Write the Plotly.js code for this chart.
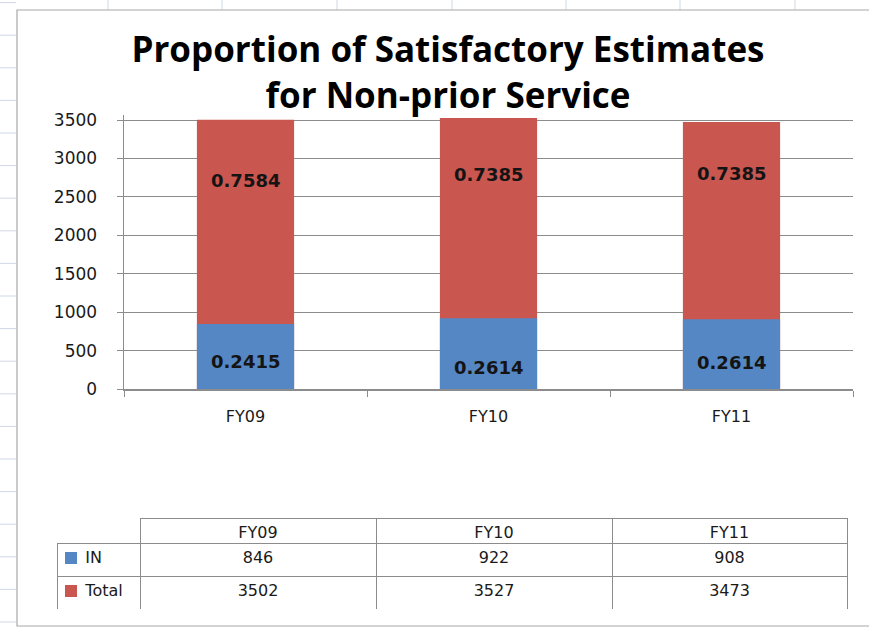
<!DOCTYPE html>
<html><head><meta charset="utf-8">
<script src="https://cdn.plot.ly/plotly-3.0.1.min.js"></script>
<style>html,body{margin:0;padding:0;background:#fff;overflow:hidden}#chart{width:869px;height:628px}</style>
</head><body><div id="chart"></div>
<script>
// ---- data ----
const categories = ['FY09', 'FY10', 'FY11'];
const seriesNames = ['IN', 'Total'];
const inValues = [846, 922, 908];
const totalValues = [3502, 3527, 3473];
const inShare = [0.2415, 0.2614, 0.2614];
const restShare = [0.7584, 0.7385, 0.7385];
const yTickValues = [0, 500, 1000, 1500, 2000, 2500, 3000, 3500];

// ---- style ----
const W = 869, H = 628;
const blue = '#5587C4', red = '#C9564F';
const px = x => x / W, py = y => 1 - y / H;
const redShift = [-61, -57, -51];
const blueShift = [-38, -49, -43];
const gridGray = '#8C8C8C';
const NB = '\u00a0';

const bars = [
  {type: 'bar', x: categories, y: totalValues, name: seriesNames[1], marker: {color: red}, hoverinfo: 'skip'},
  {type: 'bar', x: categories, y: inValues, name: seriesNames[0], marker: {color: blue}, hoverinfo: 'skip'}
];

const table = {
  type: 'table',
  domain: {x: [px(57), px(847)], y: [py(610), py(518)]},
  columnwidth: [83, 236, 236, 235],
  header: {
    values: [''].concat(categories),
    height: 25,
    align: 'center',
    fill: {color: ['rgba(0,0,0,0)', 'white', 'white', 'white']},
    line: {color: ['rgba(0,0,0,0)', gridGray, gridGray, gridGray], width: 1},
    font: {family: 'DejaVu Sans', size: 16, color: '#1a1a1a'}
  },
  cells: {
    values: [seriesNames.map(n => NB + NB + NB + NB + n)].concat(
      categories.map((c, i) => [String(inValues[i]), String(totalValues[i])])),
    height: 33,
    align: ['left', 'center', 'center', 'center'],
    fill: {color: 'white'},
    line: {color: gridGray, width: 1},
    font: {family: 'DejaVu Sans', size: 16, color: '#1a1a1a'}
  }
};

const annotations = [];
categories.forEach((c, i) => {
  annotations.push({xref: 'x', yref: 'y', x: c, y: totalValues[i], yshift: redShift[i], text: restShare[i].toFixed(4),
    showarrow: false, font: {family: 'DejaVu Sans', size: 18, color: '#141414', weight: 'bold'}});
  annotations.push({xref: 'x', yref: 'y', x: c, y: inValues[i], yshift: blueShift[i], text: inShare[i].toFixed(4),
    showarrow: false, font: {family: 'DejaVu Sans', size: 18, color: '#141414', weight: 'bold'}});
});

const shapes = [];
[108, 222, 337, 452, 566, 680, 795].forEach(x => shapes.push({type: 'line', xref: 'paper', yref: 'paper', x0: px(x), x1: px(x), y0: py(0), y1: py(10), line: {color: '#D0D7E5', width: 1}}));
for (let y = 2.6; y < 628; y += 32.6) shapes.push({type: 'line', xref: 'paper', yref: 'paper', x0: px(0), x1: px(16), y0: py(y), y1: py(y), line: {color: '#D0D7E5', width: 1}});
shapes.push({type: 'rect', xref: 'paper', yref: 'paper', x0: px(17), x1: px(880), y0: py(626), y1: py(10), line: {color: '#A8A8A8', width: 1.2}});
// legend keys inside the data table
[[blue, 552], [red, 585]].forEach(([col, y]) => shapes.push({type: 'rect', xref: 'paper', yref: 'paper', x0: px(65), x1: px(77), y0: py(y + 12), y1: py(y), fillcolor: col, line: {width: 0}, layer: 'above'}));

const layout = {
  width: W, height: H,
  margin: {l: 0, r: 0, t: 0, b: 0},
  paper_bgcolor: 'white', plot_bgcolor: 'white',
  showlegend: false,
  barmode: 'overlay', bargap: 0.6,
  title: {text: '<b>Proportion of Satisfactory Estimates<br>for Non-prior Service</b>', x: px(448), xanchor: 'center', xref: 'paper',
    y: py(62), yanchor: 'top', yref: 'paper', font: {family: 'Open Sans', size: 35, color: '#000'}},
  xaxis: {domain: [px(124), px(853)], range: [-0.5, 2.5], type: 'category', tickson: 'boundaries', ticks: 'outside', ticklen: 6,
    tickcolor: gridGray, showline: true, linecolor: gridGray, linewidth: 1.5, showgrid: false, ticklabelstandoff: 12,
    tickfont: {family: 'DejaVu Sans', size: 16, color: '#1a1a1a'}, fixedrange: true},
  yaxis: {domain: [py(389), py(115.4)], range: [0, 3560], tickvals: yTickValues, ticks: 'outside', ticklen: 6,
    tickcolor: gridGray, showline: true, linecolor: gridGray, linewidth: 1.5, showgrid: true, gridcolor: gridGray, gridwidth: 1,
    zeroline: false, ticklabelstandoff: 16, tickfont: {family: 'DejaVu Sans', size: 17, color: '#1a1a1a'}, fixedrange: true},
  annotations: annotations,
  shapes: shapes
};

Plotly.newPlot('chart', bars.concat([table]), layout, {displayModeBar: false, staticPlot: true});
</script>
</body></html>
